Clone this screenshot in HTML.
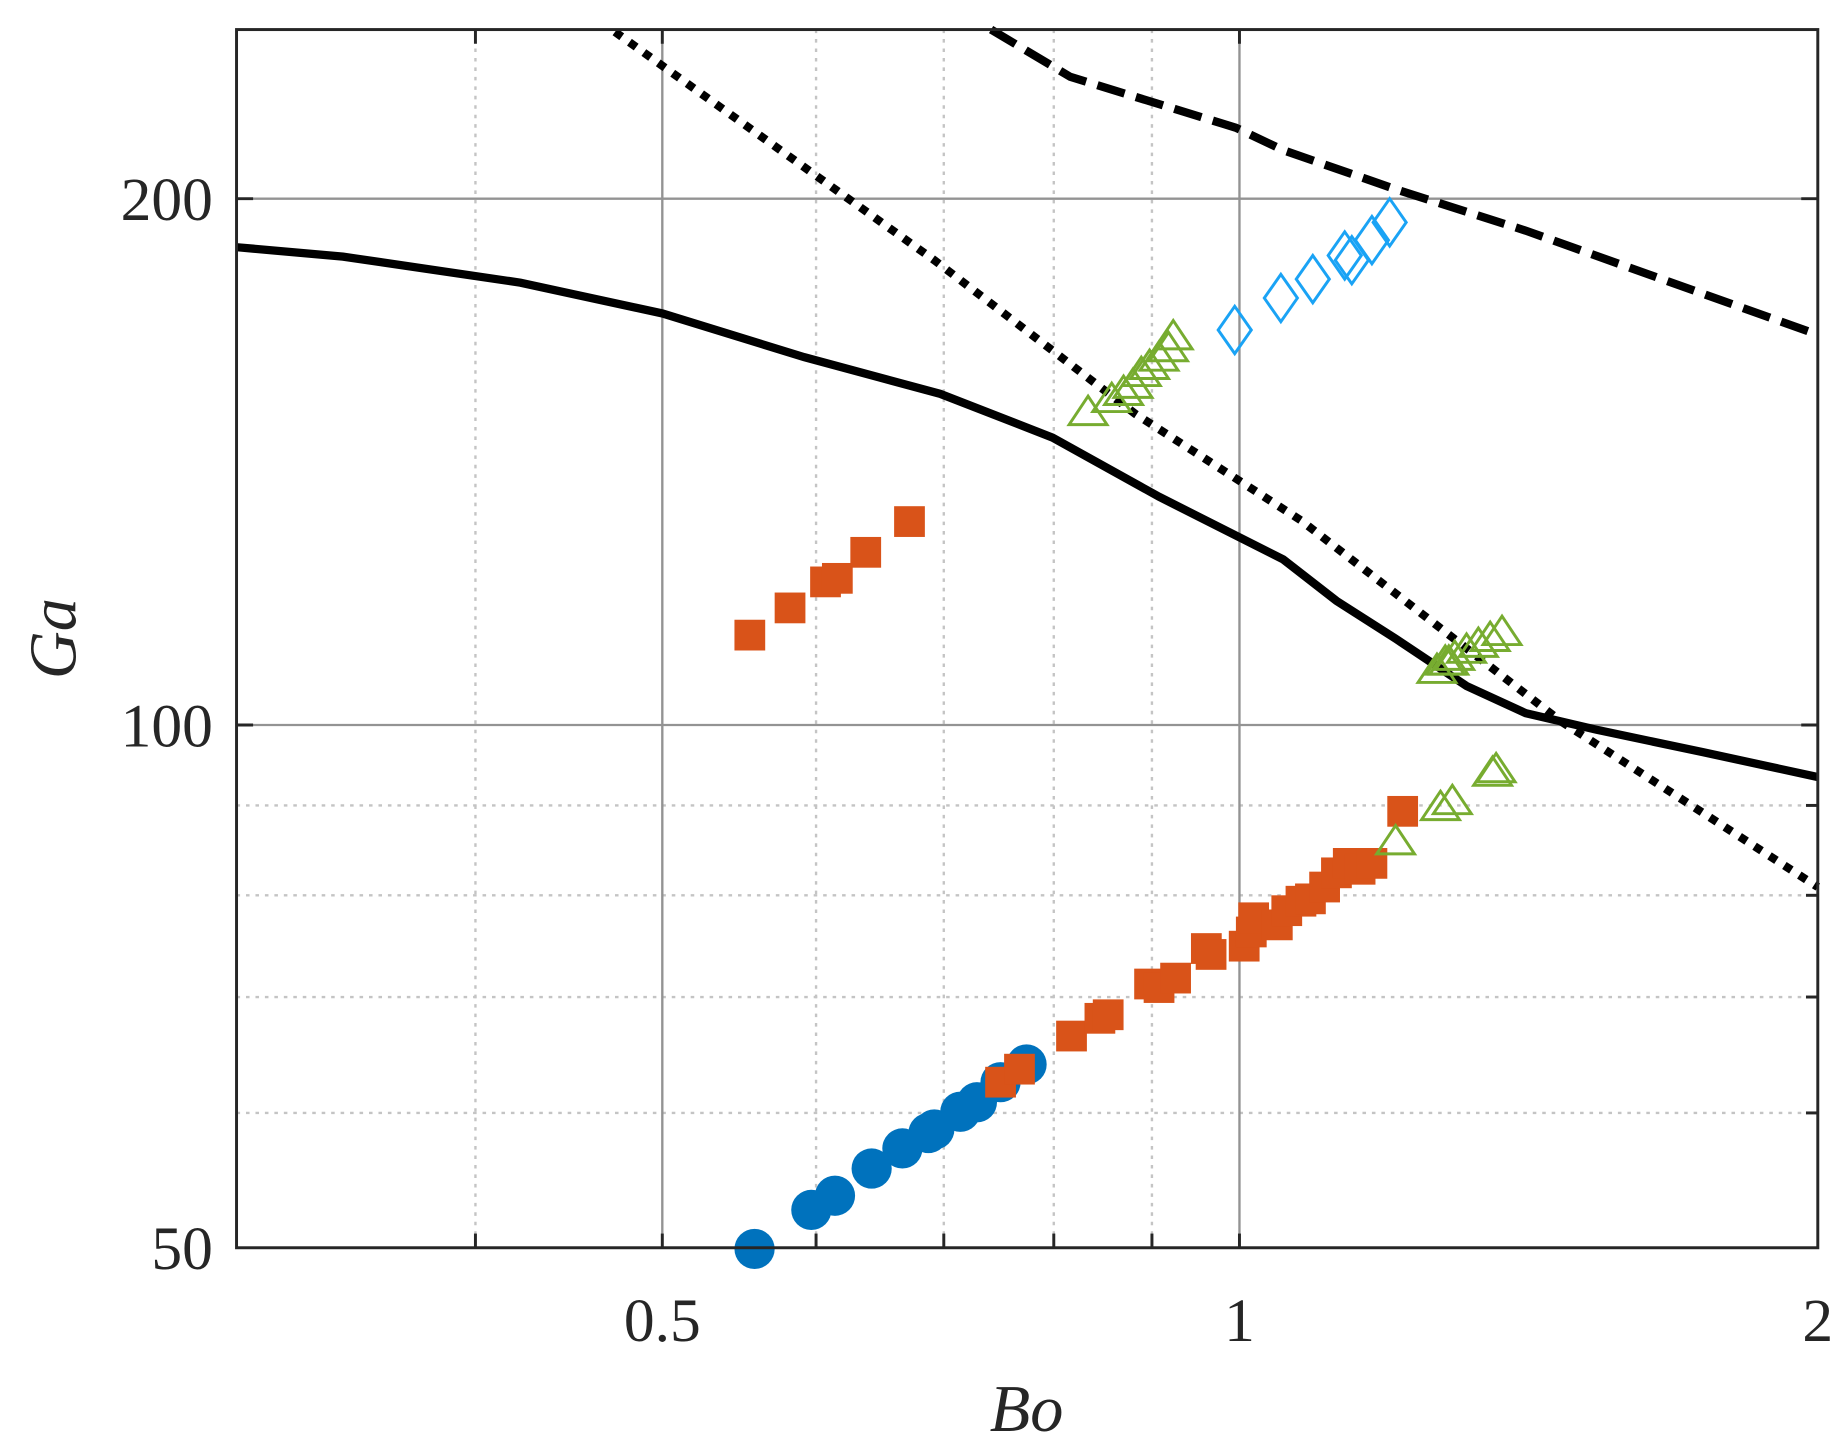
<!DOCTYPE html>
<html><head><meta charset="utf-8"><style>html,body{margin:0;padding:0;background:#fff}svg{display:block}</style></head>
<body>
<svg width="1845" height="1450" viewBox="0 0 1560 1226" preserveAspectRatio="none" xmlns="http://www.w3.org/2000/svg">
<rect width="1560" height="1226" fill="#fff"/>
<g stroke="#c4c4c4" stroke-width="2" stroke-dasharray="3,5">
<line x1="402" y1="25" x2="402" y2="1055"/>
<line x1="690" y1="25" x2="690" y2="1055"/>
<line x1="798" y1="25" x2="798" y2="1055"/>
<line x1="891" y1="25" x2="891" y2="1055"/>
<line x1="974" y1="25" x2="974" y2="1055"/>
<line x1="200" y1="941" x2="1537" y2="941"/>
<line x1="200" y1="843" x2="1537" y2="843"/>
<line x1="200" y1="757" x2="1537" y2="757"/>
<line x1="200" y1="681" x2="1537" y2="681"/>
</g>
<g stroke="#939393" stroke-width="2">
<line x1="560" y1="25" x2="560" y2="1055"/>
<line x1="1048" y1="25" x2="1048" y2="1055"/>
<line x1="200" y1="168" x2="1537" y2="168"/>
<line x1="200" y1="613" x2="1537" y2="613"/>
</g>
<g stroke="#262626" stroke-width="2.5">
<line x1="402" y1="1055" x2="402" y2="1043"/><line x1="560" y1="1055" x2="560" y2="1043"/><line x1="690" y1="1055" x2="690" y2="1043"/><line x1="798" y1="1055" x2="798" y2="1043"/><line x1="891" y1="1055" x2="891" y2="1043"/><line x1="974" y1="1055" x2="974" y2="1043"/><line x1="1048" y1="1055" x2="1048" y2="1043"/>
<line x1="402" y1="25" x2="402" y2="37"/><line x1="560" y1="25" x2="560" y2="37"/><line x1="1048" y1="25" x2="1048" y2="37"/>
<line x1="200" y1="168" x2="214" y2="168"/><line x1="200" y1="613" x2="214" y2="613"/>
<line x1="1537" y1="168" x2="1523" y2="168"/><line x1="1537" y1="613" x2="1523" y2="613"/><line x1="1537" y1="681" x2="1527" y2="681"/><line x1="1537" y1="757" x2="1527" y2="757"/><line x1="1537" y1="843" x2="1527" y2="843"/><line x1="1537" y1="941" x2="1527" y2="941"/>
</g>
<g fill="none" stroke="#000" stroke-width="7">
<polyline points="200,209 290,217 440,239 560,265 680,302 795,333 890,370 980,420 1085,473 1130,508 1180,540 1240,580 1290,603 1350,617 1440,636 1537,657"/>
<polyline stroke-dasharray="7,8" points="520,27 790,220 960,350 1100,440 1320,610 1537,750"/>
<polyline stroke-dasharray="24,10" points="838,25 905,65 1045,108 1085,127 1180,160 1290,195 1537,283"/>
</g>
<g fill="#0072BD">
<circle cx="638" cy="1056" r="17"/><circle cx="686" cy="1023" r="17"/><circle cx="706" cy="1011" r="17"/><circle cx="737" cy="988" r="17"/><circle cx="763" cy="971" r="17"/><circle cx="785" cy="958" r="17"/><circle cx="790" cy="955" r="17"/><circle cx="812" cy="940" r="17"/><circle cx="826" cy="932" r="17"/><circle cx="846" cy="915" r="17"/><circle cx="868" cy="900" r="17"/>
</g>
<g fill="#D95319">
<rect x="621" y="524" width="26" height="26"/><rect x="655" y="501" width="26" height="26"/><rect x="685" y="479" width="26" height="26"/><rect x="695" y="476" width="26" height="26"/><rect x="719" y="454" width="26" height="26"/><rect x="756" y="428" width="26" height="26"/><rect x="833" y="902" width="26" height="26"/><rect x="849" y="891" width="26" height="26"/><rect x="893" y="863" width="26" height="26"/><rect x="917" y="848" width="26" height="26"/><rect x="924" y="845" width="26" height="26"/><rect x="959" y="819" width="26" height="26"/><rect x="967" y="822" width="26" height="26"/><rect x="981" y="814" width="26" height="26"/><rect x="1007" y="789" width="26" height="26"/><rect x="1011" y="794" width="26" height="26"/><rect x="1039" y="787" width="26" height="26"/><rect x="1045" y="775" width="26" height="26"/><rect x="1047" y="763" width="26" height="26"/><rect x="1067" y="769" width="26" height="26"/><rect x="1075" y="757" width="26" height="26"/><rect x="1087" y="749" width="26" height="26"/><rect x="1095" y="747" width="26" height="26"/><rect x="1107" y="737" width="26" height="26"/><rect x="1117" y="725" width="26" height="26"/><rect x="1127" y="717" width="26" height="26"/><rect x="1137" y="722" width="26" height="26"/><rect x="1147" y="717" width="26" height="26"/><rect x="1173" y="673" width="26" height="26"/>
</g>
<g fill="none" stroke="#77AC30" stroke-width="2.5">
<polygon points="920,335 904,359 936,359"/><polygon points="940,324 924,348 956,348"/><polygon points="950,318 934,342 966,342"/><polygon points="958,312 942,336 974,336"/><polygon points="965,302 949,326 981,326"/><polygon points="972,296 956,320 988,320"/><polygon points="980,289 964,313 996,313"/><polygon points="988,281 972,305 1004,305"/><polygon points="992,271 976,295 1008,295"/>
<polygon points="1180,698 1164,722 1196,722"/><polygon points="1218,669 1202,693 1234,693"/><polygon points="1228,664 1212,688 1244,688"/><polygon points="1262,640 1246,664 1278,664"/><polygon points="1265,637 1249,661 1281,661"/>
<polygon points="1215,553 1199,577 1231,577"/><polygon points="1222,546 1206,570 1238,570"/><polygon points="1225,546 1209,570 1241,570"/><polygon points="1230,542 1214,566 1246,566"/><polygon points="1240,536 1224,560 1256,560"/><polygon points="1250,531 1234,555 1266,555"/><polygon points="1260,526 1244,550 1276,550"/><polygon points="1270,521 1254,545 1286,545"/>
</g>
<g fill="none" stroke="#1aa3f5" stroke-width="2.5">
<polygon points="1044,259 1058,279 1044,299 1030,279"/><polygon points="1083,232 1097,252 1083,272 1069,252"/><polygon points="1110,216 1124,236 1110,256 1096,236"/><polygon points="1137,196 1151,216 1137,236 1123,216"/><polygon points="1143,200 1157,220 1143,240 1129,220"/><polygon points="1160,183 1174,203 1160,223 1146,203"/><polygon points="1175,168 1189,188 1175,208 1161,188"/>
</g>
<rect x="200" y="25" width="1337" height="1030" fill="none" stroke="#262626" stroke-width="2.5"/>
<g font-family="Liberation Serif, serif" font-size="52" fill="#262626">
<text x="180" y="186" text-anchor="end">200</text>
<text x="180" y="631" text-anchor="end">100</text>
<text x="180" y="1073" text-anchor="end">50</text>
<text x="560" y="1134" text-anchor="middle">0.5</text>
<text x="1048" y="1134" text-anchor="middle">1</text>
<text x="1537" y="1134" text-anchor="middle">2</text>
<text x="868" y="1210" text-anchor="middle" font-style="italic" font-size="56">Bo</text>
<text transform="translate(64,540) rotate(-90)" text-anchor="middle" font-style="italic" font-size="56">Ga</text>
</g>
</svg>
</body></html>
